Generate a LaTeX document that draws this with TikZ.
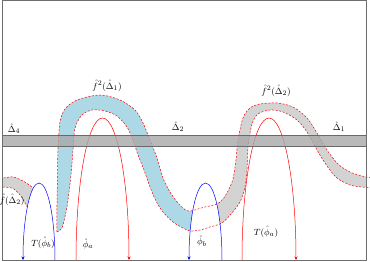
\documentclass[tikz,border=0pt]{standalone}
\usetikzlibrary{arrows.meta}
\definecolor{bandblue}{RGB}{173,216,230}
\definecolor{bandgray}{RGB}{211,211,211}
\definecolor{barfill}{RGB}{168,168,168}
\definecolor{bardark}{RGB}{105,105,105}
\definecolor{framec}{RGB}{110,110,110}
\begin{document}
\begin{tikzpicture}[x=1pt,y=-1pt,
  lbl/.style={inner sep=0pt,font=\fontsize{9.5}{11}\selectfont},
  bnd/.style={red,dash pattern=on 2pt off 1.6pt,line width=0.5pt},
  redarc/.style={red,line width=0.5pt,-{Stealth[length=3.5pt,width=3pt]}},
  bluearc/.style={blue,line width=0.5pt,-{Stealth[length=3.5pt,width=3pt]}},
]
\useasboundingbox (0,0) rectangle (370,262);
\clip (0,0) rectangle (370,262);

% left grey blob f(Delta_2)
\path[save path=\blobp] plot[smooth] coordinates {(0,178) (3,178) (13,177) (23,181) (33,188) (41,197)}
  -- plot[smooth] coordinates {(30,212) (25,203) (20,195) (13,188.5) (3,187) (0,187)} -- cycle;
\begin{scope}
  \clip (2.5,0) rectangle (370,262);
  \fill[bandgray,use path=\blobp];
  \draw[bnd,use path=\blobp];
\end{scope}
% interior of T(phi_b)
\fill[white] (55,260) arc[start angle=0,end angle=180,x radius=16pt,y radius=77pt] -- cycle;

% main band
\path[save path=\bandp] plot[smooth] coordinates {(57,232) (57,205) (57.5,175) (58,148) (60,122) (65,109) (77,100) (100,95) (120,100) (135,110) (143,123) (150,140) (157,158) (163,178) (170,192) (178,203) (188,211) (203,207.5) (217,204) (223,199) (228,191) (233,179) (236,160) (238,140) (243,118) (250,108) (260,104) (277,103) (293,107) (307,118) (317,133) (327,150) (338,164) (350,172) (362,176) (373,178)}
  -- plot[smooth] coordinates {(373,187.5) (362,187) (350,185) (337,178) (327,166) (317,150) (307,132) (297,120) (283,112) (270,110) (258,114) (252,124) (248,147) (247,170) (245,187) (240,202) (231,214) (222,223) (210,227) (200,230) (190,231) (183,228) (173,222) (163,212) (156,201) (150,187) (144,170) (138,155) (133,140) (127,127) (117,116) (105,111) (92,110) (82,115) (75,128) (73,150) (71,175) (68,200) (66,212) (62,228) (57,232)} -- cycle;
\begin{scope}
  \clip (0,0) rectangle (205,262);
  \fill[bandblue,use path=\bandp];
\end{scope}
\begin{scope}
  \clip (205,0) rectangle (366.5,262);
  \fill[bandgray,use path=\bandp];
\end{scope}
% interior of phi_b
\fill[white] (222,260) arc[start angle=0,end angle=180,x radius=16.5pt,y radius=77pt] -- cycle;
\draw[bnd,use path=\bandp];

% arcs
\draw[bluearc] (55,260) arc[start angle=0,end angle=180,x radius=16pt,y radius=77pt];
\draw[redarc] (76,260) arc[start angle=180,end angle=0,x radius=26.5pt,y radius=142pt];
\draw[bluearc] (222,260) arc[start angle=0,end angle=180,x radius=16.5pt,y radius=77pt];
\draw[redarc] (242,260) arc[start angle=180,end angle=0,x radius=27pt,y radius=142pt];

% bar
\fill[barfill,opacity=0.8] (2.5,135) rectangle (366.5,146);
\draw[bardark,line width=0.7pt] (2.5,135) -- (366.5,135) (2.5,146) -- (366.5,146);

% frame
\draw[framec,line width=0.8pt] (2.5,0.5) rectangle (366.5,260);

% labels
\node[lbl] (d4) at (14,129) {$\mathring{\Delta}_4$};
\node[lbl] (d2) at (178,127) {$\mathring{\Delta}_2$};
\node[lbl] (d1) at (339,127) {$\mathring{\Delta}_1$};
\node[lbl] (f2d1) at (107,86) {$\mathring{f}^2(\mathring{\Delta}_1)$};
\node[lbl] (f2d2) at (276,91) {$\mathring{f}^2(\mathring{\Delta}_2)$};
\node[lbl] (fd2) at (12,200) {$\mathring{f}(\mathring{\Delta}_2)$};
\node[lbl] (tpb) at (43,243) {$T(\mathring{\phi}_b)$};
\node[lbl] (pa) at (88,244) {$\mathring{\phi}_a$};
\node[lbl] (pb) at (202,241) {$\mathring{\phi}_b$};
\node[lbl] (tpa) at (266,232) {$T(\mathring{\phi}_a)$};
\end{tikzpicture}
\end{document}
